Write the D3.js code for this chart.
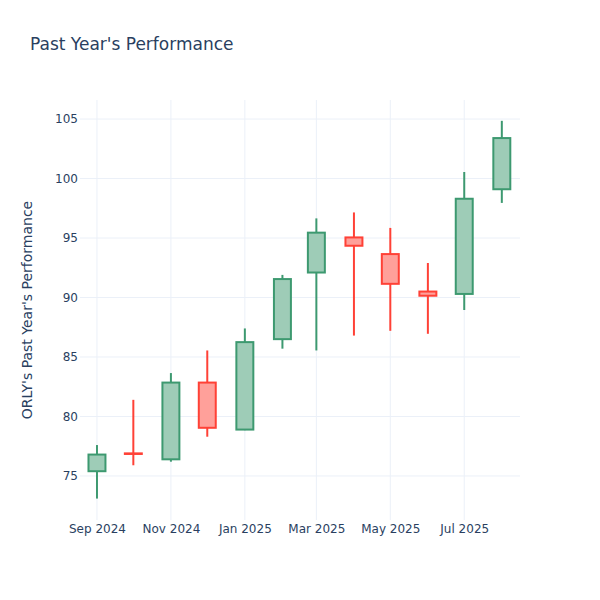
<!DOCTYPE html>
<html>
<head>
<meta charset="utf-8">
<script src="https://cdn.jsdelivr.net/npm/d3@7"></script>
<style>
  body { margin: 0; background: #fff; }
  text { font-family: "DejaVu Sans", verdana, arial, sans-serif; fill: #2a3f5f; }
</style>
</head>
<body>
<script>
(function(){

    //monthly candles
    var dates = ["2024-09-01", "2024-10-01", "2024-11-01", "2024-12-01", "2025-01-01", "2025-02-01",
                 "2025-03-01", "2025-04-01", "2025-05-01", "2025-06-01", "2025-07-01", "2025-08-01"];
    var opens  = [75.4, 76.9, 76.4, 82.85, 78.9, 86.5, 92.1, 95.05, 93.65, 90.5, 90.3, 99.1];
    var highs  = [77.6, 81.4, 83.65, 85.55, 87.4, 91.9, 96.65, 97.15, 95.85, 92.9, 100.55, 104.85];
    var lows   = [73.1, 75.9, 76.2, 78.3, 78.85, 85.7, 85.55, 86.8, 87.2, 86.95, 88.95, 97.95];
    var closes = [76.8, 76.85, 82.85, 79.05, 86.25, 91.55, 95.45, 94.35, 91.15, 90.15, 98.3, 103.4];
    var yTicks = [75, 80, 85, 90, 95, 100, 105];

    var parse = d3.timeParse("%Y-%m-%d");
    var data = dates.map(function(d, i){
        return {date: parse(d), open: opens[i], high: highs[i], low: lows[i], close: closes[i]};
    });

    var width = 600, height = 600,
        left = 80, right = 520, top = 100, bottom = 520;

    var svg = d3.select("body").append("svg")
        .attr("width", width)
        .attr("height", height);

    var x = d3.scaleTime()
        .domain([parse("2024-08-18"), parse("2025-08-16")])
        .range([left, right]);

    var y = d3.scaleLinear()
        .domain([71.3, 106.6])
        .range([bottom, top]);

    //grid
    svg.append("g").selectAll("line")
        .data(yTicks)
        .enter().append("line")
        .attr("x1", left).attr("x2", right)
        .attr("y1", function(d){ return y(d); })
        .attr("y2", function(d){ return y(d); })
        .attr("stroke", "#ebf0f8").attr("stroke-width", 1);

    var xTicks = d3.timeMonth.every(2).range(parse("2024-09-01"), parse("2025-08-02"));
    svg.append("g").selectAll("line")
        .data(xTicks)
        .enter().append("line")
        .attr("x1", function(d){ return x(d); })
        .attr("x2", function(d){ return x(d); })
        .attr("y1", top).attr("y2", bottom)
        .attr("stroke", "#ebf0f8").attr("stroke-width", 1);

    //axes
    var yAxis = svg.append("g")
        .attr("transform", "translate(" + left + ",0)")
        .call(d3.axisLeft(y).tickValues(yTicks).tickSize(0).tickPadding(2));
    yAxis.select(".domain").remove();
    yAxis.selectAll("text").style("font-size", "12px").attr("fill", "#2a3f5f");

    var xAxis = svg.append("g")
        .attr("transform", "translate(0," + bottom + ")")
        .call(d3.axisBottom(x).tickValues(xTicks).tickFormat(d3.timeFormat("%b %Y")).tickSize(0).tickPadding(4));
    xAxis.select(".domain").remove();
    xAxis.selectAll("text").style("font-size", "12px").attr("fill", "#2a3f5f");

    //candles
    var boxW = x(parse("2024-09-15")) - x(parse("2024-09-01"));
    var candles = svg.append("g").selectAll("g")
        .data(data)
        .enter().append("g");

    function col(d){ return d.close >= d.open ? "#3D9970" : "#FF4136"; }
    function fill(d){ return d.close >= d.open ? "rgba(61,153,112,0.5)" : "rgba(255,65,54,0.5)"; }

    candles.append("line")
        .attr("x1", function(d){ return x(d.date); })
        .attr("x2", function(d){ return x(d.date); })
        .attr("y1", function(d){ return y(d.high); })
        .attr("y2", function(d){ return y(d.low); })
        .attr("stroke", col).attr("stroke-width", 2);

    candles.append("rect")
        .attr("x", function(d){ return x(d.date) - boxW / 2; })
        .attr("width", boxW)
        .attr("y", function(d){ return y(Math.max(d.open, d.close)); })
        .attr("height", function(d){ return Math.abs(y(d.open) - y(d.close)); })
        .attr("fill", "#fff")
        .attr("stroke", "none");

    candles.append("rect")
        .attr("x", function(d){ return x(d.date) - boxW / 2; })
        .attr("width", boxW)
        .attr("y", function(d){ return y(Math.max(d.open, d.close)); })
        .attr("height", function(d){ return Math.abs(y(d.open) - y(d.close)); })
        .attr("fill", fill)
        .attr("stroke", col).attr("stroke-width", 2);

    //titles
    svg.append("text")
        .attr("x", 30).attr("y", 50)
        .style("font-size", "17px")
        .text("Past Year's Performance");

    svg.append("text")
        .attr("transform", "translate(32," + ((top + bottom) / 2) + ") rotate(-90)")
        .attr("text-anchor", "middle")
        .style("font-size", "14px")
        .text("ORLY's Past Year's Performance");

})();
</script>
</body>
</html>
